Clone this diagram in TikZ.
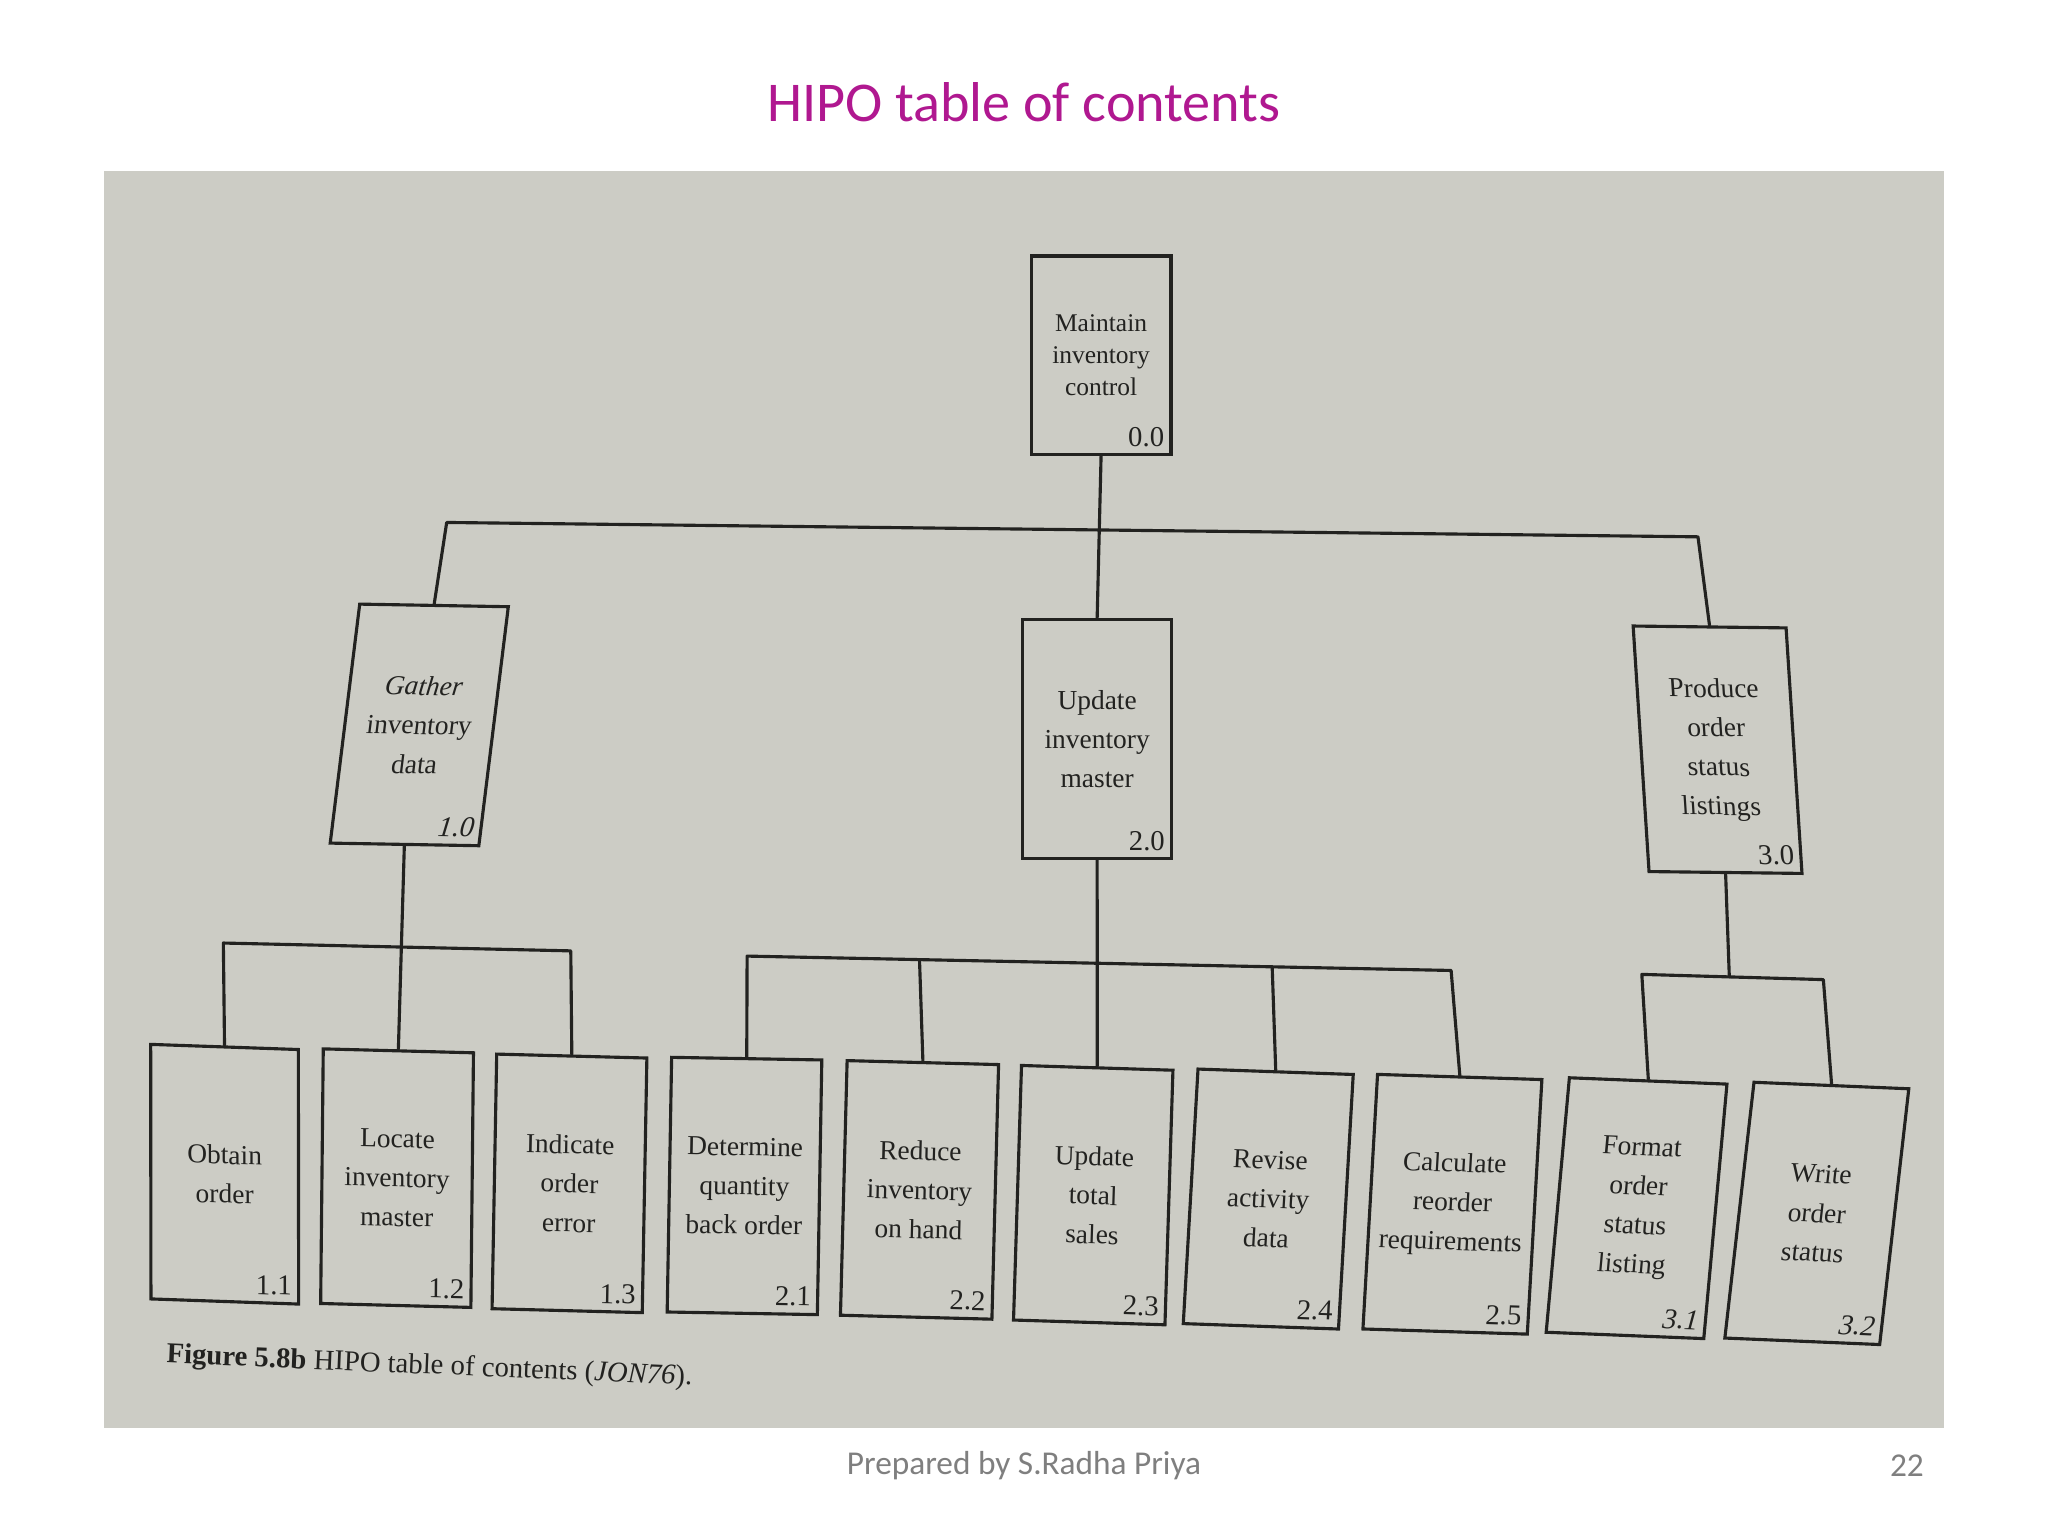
\documentclass[tikz,border=0pt]{standalone}
\usepackage{fontspec}
\setmainfont{Liberation Serif}
\newfontfamily\slidefont{Carlito}
\definecolor{ink}{RGB}{34,34,32}
\definecolor{photo}{RGB}{204,204,197}
\definecolor{titlemag}{RGB}{176,24,144}
\definecolor{footgray}{RGB}{127,127,127}
\tikzset{
  hipo/.style={draw=ink, line width=2.4pt, inner sep=0pt, align=center, text=ink,
    font=\fontsize{21}{30}\selectfont},
  hiponum/.style={inner sep=1pt, text=ink, font=\fontsize{22}{22}\selectfont},
  link/.style={draw=ink, line width=2.4pt, line cap=round, line join=round},
  box-b00/.style={font=\fontsize{19.5}{24.5}\selectfont},
}
% name, cx, cy, W, H, slant, rotate, text, number
\newcommand{\hipobox}[9]{%
  \begin{scope}[shift={(#2,#3)}, xslant=#6, rotate=#7, transform shape]
    \node[hipo, minimum width=#4pt, minimum height=#5pt, box-#1/.try] (#1) at (0,0) {#8};
    \node[hiponum, anchor=south east] (#1n) at (#4/2-4, #5/2-5) {#9};
  \end{scope}}
\begin{document}
\begin{tikzpicture}[x=1pt, y=-1pt]
  \useasboundingbox (0,0) rectangle (1568,1176);
  \fill[white] (0,0) rectangle (1568,1176);
  \fill[photo] (80,131) rectangle (1488,1093);

  \node[font=\slidefont\fontsize{43}{43}\selectfont, text=titlemag] (title) at (784,78) {HIPO table of contents};
  \node[font=\slidefont\fontsize{25.5}{25.5}\selectfont, text=footgray] (foot) at (784,1122) {Prepared by S.Radha Priya};
  \node[font=\slidefont\fontsize{25.5}{25.5}\selectfont, text=footgray] (page) at (1460,1122) {22};

  % level 0
  \hipobox{b00}{843}{272}{107}{152}{0}{0}{Maintain\\inventory\\control}{0.0}
  % level 1
  \hipobox{b10}{321}{555}{114}{183}{0.106}{-1}{\itshape Gather\\inventory\\data}{\itshape 1.0}
  \hipobox{b20}{840}{566}{114}{183}{0}{0}{Update\\inventory\\master}{2.0}
  \hipobox{b30}{1315}{574}{117}{188}{-0.077}{-0.7}{Produce\\order\\status\\listings}{3.0}
  % level 2
  \hipobox{b11}{172}{899}{113}{195}{-0.036}{-2}{Obtain\\order}{1.1}
  \hipobox{b12}{304}{902}{115}{195}{-0.016}{-1.5}{Locate\\inventory\\master}{1.2}
  \hipobox{b13}{436}{906}{115}{195}{-0.008}{-1.5}{Indicate\\order\\error}{1.3}
  \hipobox{b21}{570}{908}{115}{195}{0}{-1}{Determine\\quantity\\back order}{2.1}
  \hipobox{b22}{704}{911}{116}{195}{0}{-1.5}{Reduce\\inventory\\on hand}{2.2}
  \hipobox{b23}{837}{915}{116}{195}{0}{-1.8}{Update\\total\\sales}{2.3}
  \hipobox{b24}{971}{918}{119}{195}{0.023}{-2}{Revise\\activity\\data}{2.4}
  \hipobox{b25}{1112}{922}{126}{195}{0.026}{-1.8}{Calculate\\reorder\\requirements}{2.5}
  \hipobox{b31}{1253}{925}{121}{195}{0.051}{-2.3}{Format\\order\\status\\listing}{\itshape 3.1}
  \hipobox{b32}{1391}{929}{119}{196}{0.072}{-2.4}{Write\\order\\status}{\itshape 3.2}

  % junction points
  \coordinate (tl) at (342,400);
  \coordinate (tr) at (1300,411);
  \coordinate (g1l) at (171,722);
  \coordinate (g1r) at (437,728);
  \coordinate (g2l) at (572,732);
  \coordinate (g2r) at (1111,743);
  \coordinate (j22) at (704,735);
  \coordinate (j24) at (974,740);
  \coordinate (g3l) at (1257,746);
  \coordinate (g3r) at (1396,750);
  \coordinate (j3) at (1324,748);

  % connectors
  \draw[link] (b00.south) -- (b20.north);
  \draw[link] (b10.north) -- (tl) -- (tr) -- (b30.north);
  \draw[link] (b10.south) -- (b12.north);
  \draw[link] (b11.north) -- (g1l) -- (g1r) -- (b13.north);
  \draw[link] (b20.south) -- (b23.north);
  \draw[link] (b21.north) -- (g2l) -- (g2r) -- (b25.north);
  \draw[link] (j22) -- (b22.north);
  \draw[link] (j24) -- (b24.north);
  \draw[link] (b30.south) -- (j3);
  \draw[link] (b31.north) -- (g3l) -- (g3r) -- (b32.north);

  % caption
  \node[rotate=-2.4, text=ink, font=\fontsize{22}{22}\selectfont, anchor=west] (caption) at (124,1038)
    {\textbf{Figure 5.8b} HIPO table of contents (\textit{JON76}).};
\end{tikzpicture}
\end{document}
